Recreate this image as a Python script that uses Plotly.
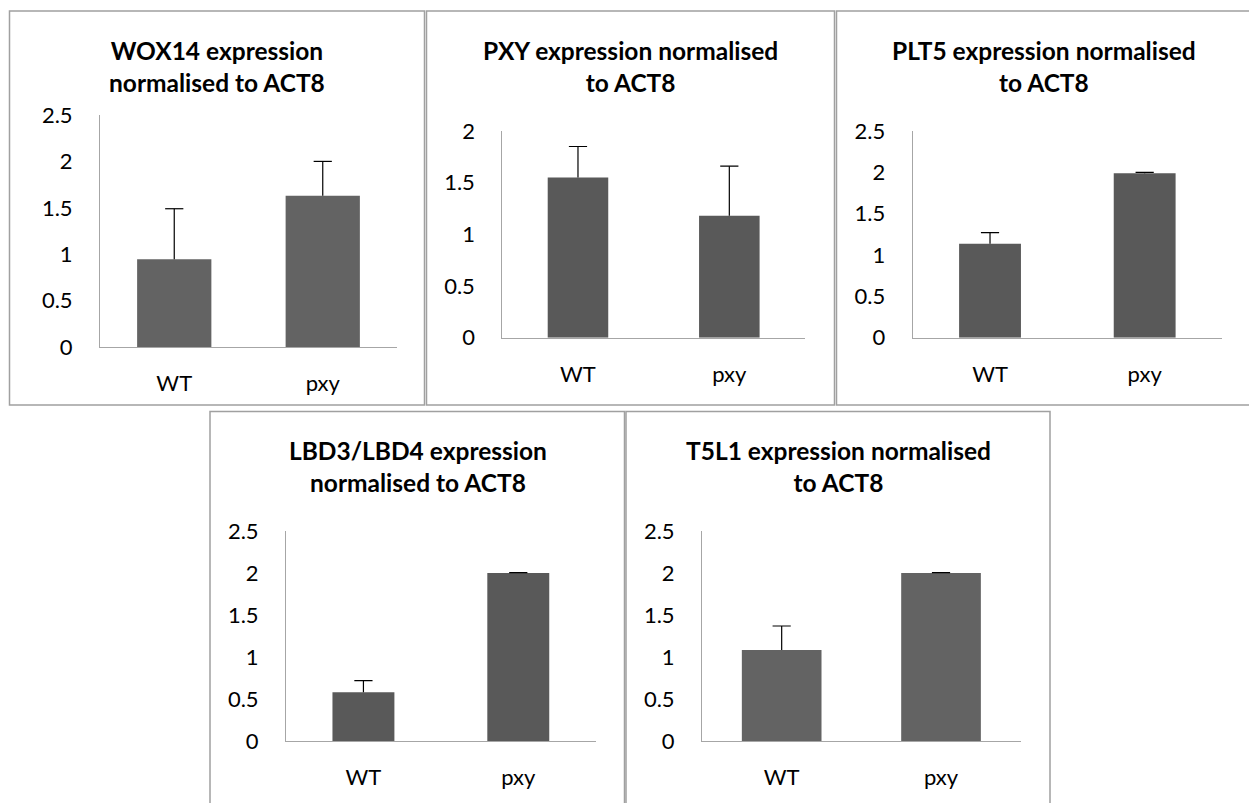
import plotly.graph_objects as go

W, H = 1249, 803

categories = ["WT", "pxy"]

titles = [
    "WOX14 expression<br>normalised to ACT8",
    "PXY expression normalised<br>to ACT8",
    "PLT5 expression normalised<br>to ACT8",
    "LBD3/LBD4 expression<br>normalised to ACT8",
    "T5L1 expression normalised<br>to ACT8",
]

wox14_values = [0.945, 1.63]
wox14_errors = [0.545, 0.37]
pxy_values = [1.55, 1.18]
pxy_errors = [0.30, 0.48]
plt5_values = [1.137, 1.99]
plt5_errors = [0.135, 0.01]
lbd_values = [0.58, 2.0]
lbd_errors = [0.138, 0.004]
t5l1_values = [1.083, 2.0]
t5l1_errors = [0.286, 0.004]

series_values = [wox14_values, pxy_values, plt5_values, lbd_values, t5l1_values]
series_errors = [wox14_errors, pxy_errors, plt5_errors, lbd_errors, t5l1_errors]
y_max = [2.5, 2.0, 2.5, 2.5, 2.5]

# layout (pixels)
plot_boxes = [  # x0, x1, ytop, ybottom
    (100, 397, 115, 347),
    (502.3, 805, 131, 337.7),
    (912.7, 1222, 131, 337.7),
    (286, 595.7, 531, 741),
    (702, 1020.7, 531, 741),
]
bar_gaps = [0.5, 0.6, 0.6, 0.6, 0.5]
bar_colors = ["#636363", "#595959", "#595959", "#595959", "#636363"]
panels = [  # x0, x1, y0, y1 (pixels)
    (9.5, 424.5, 11, 405),
    (426.5, 834.5, 11, 405),
    (836.5, 1252, 11, 405),
    (210, 624.5, 411.5, 806),
    (626, 1050, 411.5, 806),
]
title_centers = [217, 630.5, 1044, 417.5, 838]
title_y = [(50, 82)] * 3 + [(450, 482)] * 2

FONT = "Lato"

fig = go.Figure()
for i in range(5):
    n = "" if i == 0 else str(i + 1)
    vals = series_values[i]
    errs = series_errors[i]
    fig.add_trace(go.Bar(
        x=categories, y=vals, width=1 - bar_gaps[i],
        marker=dict(color=bar_colors[i], line=dict(width=0)),
        error_y=dict(type="data", array=errs, symmetric=False,
                     arrayminus=[0, 0], color="black", thickness=1.2, width=0),
        xaxis="x" + n, yaxis="y" + n, showlegend=False, hoverinfo="skip",
    ))
    # caps of the (plus-only) error bars
    fig.add_trace(go.Scatter(
        x=categories, y=[v + e for v, e in zip(vals, errs)], mode="markers",
        marker=dict(symbol="line-ew-open", size=13, color="black",
                    line=dict(color="black", width=1.2)),
        xaxis="x" + n, yaxis="y" + n, showlegend=False, hoverinfo="skip",
    ))
    x0, x1, yt, yb = plot_boxes[i]
    fig.update_layout(**{
        "xaxis" + n: dict(domain=[x0 / W, x1 / W], anchor="y" + n,
                          showline=True, linecolor="#a6a6a6", linewidth=1,
                          showgrid=False, zeroline=False, ticks="",
                          tickfont=dict(family=FONT, size=22, color="black"),
                          ticklabelstandoff=17, automargin=False, fixedrange=True),
        "yaxis" + n: dict(domain=[1 - yb / H, 1 - yt / H], anchor="x" + n,
                          range=[0, y_max[i]], dtick=0.5, tickformat="~g",
                          showline=True, linecolor="#a6a6a6", linewidth=1,
                          showgrid=False, zeroline=False, ticks="",
                          tickfont=dict(family=FONT, size=22, color="black"),
                          ticklabelstandoff=22, automargin=False, fixedrange=True),
    })
    px0, px1, py0, py1 = panels[i]
    fig.add_shape(type="rect", xref="paper", yref="paper",
                  x0=px0 / W, x1=px1 / W, y0=1 - py1 / H, y1=1 - py0 / H,
                  line=dict(color="#a0a0a0", width=1.5), fillcolor="rgba(0,0,0,0)",
                  layer="below")
    fig.add_annotation(text="<b>" + titles[i] + "</b>", xref="paper", yref="paper",
                       x=title_centers[i] / W, y=1 - (title_y[i][0] + title_y[i][1]) / 2 / H,
                       xanchor="center", yanchor="middle", showarrow=False,
                       font=dict(family=FONT, size=24.5, color="black"))

fig.update_layout(width=W, height=H, autosize=False,
                  margin=dict(l=0, r=0, t=0, b=0, pad=0),
                  paper_bgcolor="white", plot_bgcolor="white")
fig.write_html("out.html")
